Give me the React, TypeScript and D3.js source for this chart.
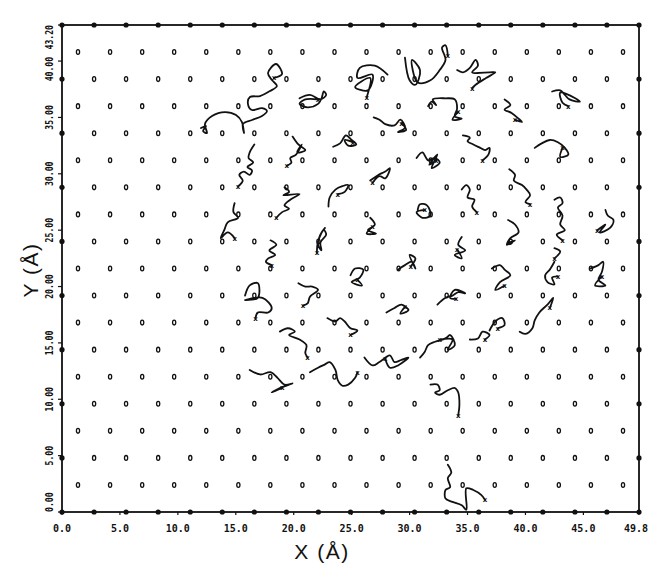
import React, { useRef, useEffect } from 'react';
import { select, scaleLinear, line, curveCatmullRom } from 'd3';

// substrate lattice rows (Å) and site columns for even / odd rows
const rowY = [0, 2.4, 4.8, 7.2, 9.6, 12.0, 14.4, 16.8, 19.2, 21.6, 24.0, 26.4, 28.8, 31.2, 33.6, 36.0, 38.4, 40.8, 43.2];
const evenX = [0, 2.77, 5.53, 8.3, 11.07, 13.83, 16.6, 19.37, 22.13, 24.9, 27.67, 30.43, 33.2, 35.97, 38.73, 41.5, 44.27, 47.03, 49.8];
const oddX = [1.38, 4.15, 6.92, 9.68, 12.45, 15.22, 17.98, 20.75, 23.52, 26.28, 29.05, 31.82, 34.58, 37.35, 40.12, 42.88, 45.65, 48.42];

const xTicks = [0, 5, 10, 15, 20, 25, 30, 35, 40, 45, 49.8];
const xTickLabels = ['0.0', '5.0', '10.0', '15.0', '20.0', '25.0', '30.0', '35.0', '40.0', '45.0', '49.8'];
const yTicks = [0, 5, 10, 15, 20, 25, 30, 35, 40, 43.2];
const yTickLabels = ['0.00', '5.00', '10.00', '15.00', '20.00', '25.00', '30.00', '35.00', '40.00', '43.20'];

// adatom trajectories, [x, y] in Å
const tracks = [
  [[12.0,34.06],[12.43,34.24],[12.17,33.79],[12.51,33.62],[12.34,34.42],[12.95,35.13],[14.07,35.48],[15.02,35.21],[15.53,34.59],[15.71,33.62],[15.62,34.42],[16.4,34.77],[17.26,35.13],[17.69,35.57],[17.26,35.83],[16.4,35.66],[16.05,36.19],[16.22,36.81],[17.09,36.9],[17.95,37.34],[18.55,37.79],[18.12,38.32],[17.78,38.94],[18.47,39.74],[18.99,38.85],[18.3,38.5]],
  [[20.5,36.7],[21.4,37.0],[22.3,36.6],[22.8,37.0],[22.6,37.3],[22.4,36.7],[22.1,36.2],[21.2,35.9],[20.5,36.2],[21.0,36.6],[22.1,36.6]],
  [[16.6,32.6],[16.2,31.9],[16.1,31.4],[16.5,31.0],[16.0,30.6],[16.4,30.3],[16.2,29.9],[15.7,30.2],[15.3,29.9],[15.6,29.4],[15.2,28.9]],
  [[19.9,33.3],[20.4,32.6],[21.0,32.1],[20.3,31.9],[20.7,32.6],[20.2,31.7],[19.7,31.4],[19.8,31.0],[19.4,30.7]],
  [[23.0,27.1],[23.1,27.9],[23.6,28.6],[24.2,28.9],[24.7,29.0],[24.4,28.4],[23.8,28.2]],
  [[19.2,28.8],[19.6,28.4],[19.1,28.1],[20.5,28.2],[19.7,27.7],[19.2,27.2],[19.6,26.9],[19.0,26.6],[18.5,26.1]],
  [[14.9,27.4],[14.8,26.6],[15.2,26.1],[14.3,25.7],[14.0,25.0],[13.7,24.3],[14.3,24.8],[14.9,24.3]],
  [[18.0,24.1],[18.5,23.7],[17.9,23.2],[18.4,22.8],[17.8,22.5],[17.6,22.2],[18.1,21.9]],
  [[22.7,25.2],[22.3,24.6],[22.1,23.7],[22.4,23.2],[22.3,23.9],[22.8,24.6],[22.6,25.0],[22.1,24.0],[22.0,23.0]],
  [[23.4,32.4],[24.0,32.7],[24.5,33.4],[25.0,33.0],[25.4,32.6],[24.7,32.5],[24.4,33.0],[25.1,32.8]],
  [[28.1,38.8],[27.0,39.6],[25.7,39.4],[25.5,38.5],[26.8,38.8],[26.4,37.4],[25.3,37.7],[26.6,38.5],[26.3,36.8]],
  [[29.6,40.3],[30.0,38.3],[30.5,37.9],[30.9,39.2],[30.2,40.1],[30.7,38.1],[31.8,38.3],[32.6,39.2],[33.1,40.1],[32.8,41.2],[33.1,41.4],[33.3,40.5]],
  [[34.1,39.2],[34.6,39.0],[35.2,39.4],[35.7,40.1],[35.9,39.6],[35.4,39.0],[36.9,39.0],[37.4,39.0],[36.6,38.5],[35.7,37.9],[35.4,37.6]],
  [[31.6,36.0],[31.9,36.4],[32.3,36.1],[32.0,36.6],[33.1,36.7],[33.9,36.6],[34.1,35.8],[33.9,35.1],[34.5,34.9],[33.7,34.8],[34.2,35.5]],
  [[26.9,35.0],[27.4,34.8],[27.9,34.4],[28.7,34.3],[29.2,34.8],[29.6,34.1],[29.0,33.7],[29.7,33.9],[29.3,34.5]],
  [[30.6,31.4],[31.1,31.9],[31.6,31.2],[32.2,31.4],[32.6,31.0],[31.9,30.5],[32.4,31.7],[31.7,30.8],[32.3,31.2]],
  [[34.6,33.4],[35.2,33.2],[35.0,32.9],[35.5,32.6],[36.1,32.3],[36.5,32.1],[36.9,32.3],[36.8,31.7],[36.3,31.2]],
  [[26.6,29.4],[27.3,29.9],[27.9,30.2],[28.3,30.5],[27.9,29.6],[27.4,29.8],[26.8,29.2]],
  [[34.5,28.6],[34.9,29.0],[35.2,28.6],[35.0,27.9],[35.6,27.7],[35.4,27.1],[35.8,26.6]],
  [[30.7,26.8],[30.9,27.3],[31.5,27.2],[31.8,26.3],[31.1,26.1],[30.6,26.6],[31.3,26.8]],
  [[26.6,26.1],[27.0,25.5],[26.4,25.0],[27.1,24.7],[26.3,24.7],[26.8,25.3]],
  [[34.5,24.4],[34.2,23.7],[34.8,23.2],[33.9,22.8],[34.5,22.5],[34.1,23.3]],
  [[42.3,37.3],[43.0,37.4],[43.4,37.0],[43.8,36.6],[44.7,36.4],[44.3,36.7],[43.0,37.2],[43.2,36.3],[43.7,36.0]],
  [[38.2,36.6],[38.7,36.1],[38.2,35.7],[38.8,35.4],[39.4,34.9],[39.7,34.6],[39.1,34.8]],
  [[40.8,32.3],[41.4,32.7],[42.1,33.0],[42.8,32.8],[43.4,32.3],[43.7,31.7],[43.0,31.5],[43.2,32.3]],
  [[38.6,30.4],[39.1,29.9],[39.0,29.4],[39.7,29.0],[40.1,28.6],[40.4,28.1],[40.0,27.5],[40.4,27.3]],
  [[42.5,27.7],[43.0,27.9],[43.2,27.4],[42.8,27.0],[43.2,26.3],[43.0,25.5],[43.4,25.0],[42.7,24.6],[43.2,24.1]],
  [[46.9,26.8],[47.1,26.3],[47.6,25.9],[47.3,25.2],[46.4,24.8],[46.9,25.5],[46.2,25.0]],
  [[38.5,25.9],[39.1,25.5],[39.4,24.8],[38.7,24.3],[38.4,23.7],[39.1,24.1],[38.6,23.9]],
  [[42.5,23.4],[43.0,23.1],[42.5,22.5]],
  [[15.8,19.2],[16.2,20.1],[16.9,20.3],[16.9,19.0],[15.8,18.8],[17.3,19.0],[18.1,18.1],[17.8,17.7],[16.9,17.7],[16.7,17.2]],
  [[20.4,20.3],[21.0,20.0],[21.6,20.0],[22.1,19.7],[21.4,19.1],[21.2,18.5],[20.8,18.3]],
  [[18.8,16.0],[19.5,16.3],[20.1,16.0],[19.6,15.7],[20.5,15.3],[21.1,14.8],[21.0,14.1],[21.2,13.7]],
  [[16.2,12.6],[17.1,12.2],[18.0,12.4],[18.6,11.9],[19.2,11.3],[19.9,11.4],[18.8,11.0],[18.1,10.6],[19.0,11.0]],
  [[21.4,12.4],[22.1,12.8],[22.7,13.1],[23.1,13.3],[23.6,12.6],[23.8,11.7],[24.2,11.2],[24.7,11.3],[25.3,11.9],[25.5,12.4]],
  [[24.9,21.0],[25.3,21.6],[26.0,21.5],[25.7,20.8],[25.0,20.4],[25.9,20.1],[25.5,20.6]],
  [[29.0,21.5],[29.6,21.9],[30.2,22.2],[30.5,21.6],[30.0,22.8],[30.5,22.5],[30.1,21.8]],
  [[32.4,18.4],[33.1,19.0],[33.7,19.2],[34.2,19.5],[34.8,19.4],[33.9,19.7],[33.5,19.0],[34.0,18.9]],
  [[28.0,17.7],[28.7,18.1],[29.3,18.4],[29.9,17.9],[29.2,17.6],[29.6,18.2]],
  [[22.9,17.2],[23.6,16.9],[24.0,17.2],[24.4,16.9],[24.9,16.3],[25.5,16.1],[24.9,15.7]],
  [[30.9,13.7],[31.3,14.2],[31.6,14.8],[32.2,15.1],[33.1,15.4],[33.5,15.7],[33.9,14.8],[33.3,14.4],[33.7,15.3],[32.6,15.3]],
  [[26.1,13.7],[26.8,13.0],[27.4,13.3],[28.3,13.9],[28.7,13.3],[29.3,13.5],[29.9,13.7],[29.0,13.0],[28.3,12.8],[27.9,13.6]],
  [[31.8,11.3],[32.4,11.3],[32.6,10.8],[32.2,10.6],[32.6,10.4],[33.3,10.8],[33.9,11.0],[34.2,10.6],[34.3,9.5],[34.2,8.6]],
  [[35.2,15.3],[35.9,15.4],[36.3,16.0],[36.9,15.7],[36.5,15.3]],
  [[37.1,21.6],[37.8,21.9],[38.2,21.5],[38.7,21.0],[37.8,20.4],[37.4,19.7],[38.2,20.1]],
  [[42.5,22.2],[42.1,21.5],[41.7,21.0],[41.9,20.4],[42.5,20.2],[42.3,20.8],[42.8,20.9]],
  [[45.6,21.6],[46.3,21.9],[46.7,22.2],[46.6,21.3],[46.3,20.6],[46.9,20.1],[46.0,20.1],[46.6,20.9]],
  [[39.5,16.0],[40.0,15.8],[40.6,16.3],[40.8,17.0],[41.2,17.7],[41.9,18.4],[42.4,19.0],[42.1,18.1]],
  [[36.9,16.1],[37.4,16.9],[38.0,17.2],[38.2,16.6],[37.6,16.3]],
  [[33.3,4.2],[33.6,3.5],[33.3,3.0],[33.5,2.2],[33.1,1.95],[33.1,1.2],[33.7,0.9],[34.5,0.6],[34.9,0.2],[34.9,2.1],[35.5,1.95],[36.2,1.5],[36.5,1.1]]
];

function LatticePlot() {
  const svgRef = useRef(null);

  useEffect(() => {
    const svg = select(svgRef.current);
    svg.selectAll('*').remove();

    const ink = '#111';
    const xScale = scaleLinear().domain([0, 49.8]).range([62, 639]);
    const yScale = scaleLinear().domain([0, 43.2]).range([512, 25]);

    // lattice sites
    const sites = rowY.flatMap((y, k) => (k % 2 === 0 ? evenX : oddX).map(x => ({ x, y })));
    const onEdge = d => d.x === 0 || d.x === 49.8 || d.y === 0 || d.y === 43.2;

    svg.append('g')
      .selectAll('ellipse')
      .data(sites.filter(d => !onEdge(d)))
      .join('ellipse')
        .attr('cx', d => xScale(d.x))
        .attr('cy', d => yScale(d.y))
        .attr('rx', 1.6)
        .attr('ry', 2.4)
        .attr('fill', 'none')
        .attr('stroke', ink)
        .attr('stroke-width', 1.3);

    // frame
    svg.append('rect')
      .attr('x', xScale(0)).attr('y', yScale(43.2))
      .attr('width', xScale(49.8) - xScale(0))
      .attr('height', yScale(0) - yScale(43.2))
      .attr('fill', 'none').attr('stroke', ink).attr('stroke-width', 1.8);

    svg.append('g')
      .selectAll('circle')
      .data(sites.filter(onEdge))
      .join('circle')
        .attr('cx', d => xScale(d.x))
        .attr('cy', d => yScale(d.y))
        .attr('r', 2.6)
        .attr('fill', ink);

    // ticks
    svg.append('g').selectAll('line')
      .data(yTicks)
      .join('line')
        .attr('x1', xScale(0) - 4).attr('x2', xScale(0))
        .attr('y1', d => yScale(d)).attr('y2', d => yScale(d))
        .attr('stroke', ink).attr('stroke-width', 1.2);
    svg.append('g').selectAll('line')
      .data(xTicks)
      .join('line')
        .attr('x1', d => xScale(d)).attr('x2', d => xScale(d))
        .attr('y1', yScale(0)).attr('y2', yScale(0) + 3)
        .attr('stroke', ink).attr('stroke-width', 1.2);

    // tick labels (the last x label sits against the page edge)
    const lastX = xTicks.length - 1;
    svg.append('g').selectAll('text')
      .data(xTicks)
      .join('text')
        .attr('x', (d, i) => i === lastX ? 648 : xScale(d))
        .attr('y', 532)
        .attr('text-anchor', (d, i) => i === lastX ? 'end' : 'middle')
        .attr('font-family', 'DejaVu Sans Mono, monospace')
        .attr('font-weight', 'bold')
        .attr('font-size', 10)
        .attr('fill', ink)
        .text((d, i) => xTickLabels[i]);

    const lastY = yTicks.length - 1;
    svg.append('g').selectAll('text')
      .data(yTicks)
      .join('text')
        .attr('transform', (d, i) => `translate(53,${yScale(d) + (i === lastY - 1 ? 8 : 0)}) rotate(-90)`)
        .attr('text-anchor', (d, i) => i === 0 ? 'start' : i === lastY ? 'end' : 'middle')
        .attr('font-family', 'DejaVu Sans Mono, monospace')
        .attr('font-weight', 'bold')
        .attr('font-size', 10)
        .attr('textLength', (d, i) => yTickLabels[i].length * 4.9)
        .attr('lengthAdjust', 'spacingAndGlyphs')
        .attr('fill', ink)
        .text((d, i) => yTickLabels[i]);

    // trajectories
    const path = line().x(d => xScale(d[0])).y(d => yScale(d[1])).curve(curveCatmullRom.alpha(0.5));
    svg.append('g')
      .selectAll('path')
      .data(tracks)
      .join('path')
        .attr('d', path)
        .attr('fill', 'none')
        .attr('stroke', ink)
        .attr('stroke-width', 1.8)
        .attr('stroke-linejoin', 'round')
        .attr('stroke-linecap', 'round');

    // plotter "x" at the end of each trajectory
    svg.append('g')
      .selectAll('text')
      .data(tracks)
      .join('text')
        .attr('x', d => xScale(d[d.length - 1][0]))
        .attr('y', d => yScale(d[d.length - 1][1]))
        .attr('dy', '0.35em')
        .attr('text-anchor', 'middle')
        .attr('font-family', 'DejaVu Sans, sans-serif')
        .attr('font-weight', 'bold')
        .attr('font-size', 7)
        .attr('fill', ink)
        .text('x');

    // axis titles
    svg.append('text')
      .attr('x', 322).attr('y', 559)
      .attr('text-anchor', 'middle')
      .attr('font-family', 'Liberation Sans, Arial, sans-serif')
      .attr('font-size', 21)
      .attr('letter-spacing', 1.5)
      .attr('fill', ink)
      .text('X (Å)');

    svg.append('text')
      .attr('transform', 'translate(38,270) rotate(-90)')
      .attr('text-anchor', 'middle')
      .attr('font-family', 'Liberation Sans, Arial, sans-serif')
      .attr('font-size', 21)
      .attr('letter-spacing', 1.5)
      .attr('fill', ink)
      .text('Y (Å)');
  }, []);

  return (
    <svg ref={svgRef} width={649} height={563}
      style={{ position: 'absolute', left: 0, top: 0, background: '#fff' }} />
  );
}

export default function App() {
  return <LatticePlot />;
}
